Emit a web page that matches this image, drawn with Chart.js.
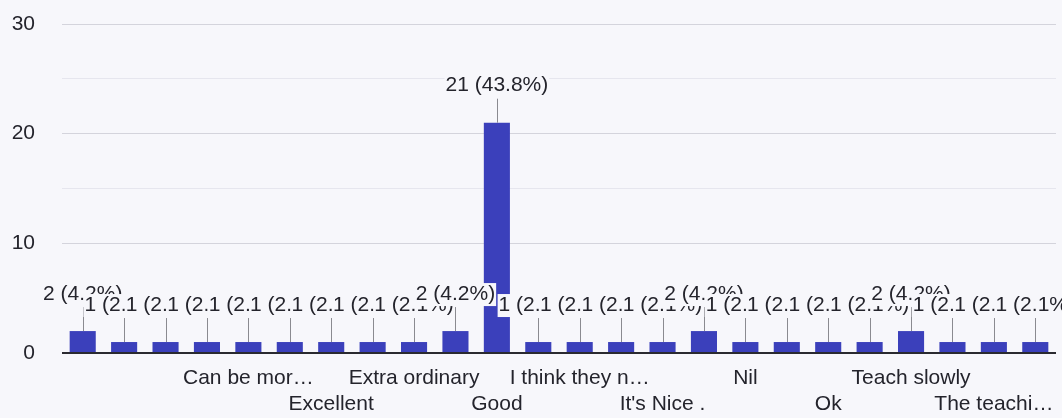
<!DOCTYPE html>
<html>
<head>
<meta charset="utf-8">
<script src="https://cdn.jsdelivr.net/npm/chart.js@4/dist/chart.umd.min.js"></script>
<style>
  html, body { margin: 0; padding: 0; background: #f7f7fb; }
  #chart { display: block; }
</style>
</head>
<body>
<canvas id="chart" width="1062" height="418"></canvas>
<script>
// responses, sorted like the form summary (unreadable labels left blank)
const categories = [
  "", "", "", "", "Can be mor…", "", "Excellent", "", "Extra ordinary", "",
  "Good", "", "I think they n…", "", "It's Nice .", "", "Nil", "", "Ok", "",
  "Teach slowly", "", "The teachi…", ""
];
const counts = [
  2, 1, 1, 1, 1, 1, 1, 1, 1, 2,
  21, 1, 1, 1, 1, 2, 1, 1, 1, 1,
  2, 1, 1, 1
];
const yTicks = [0, 10, 20, 30];

const BG = "#f7f7fb";
const BAR = "#3b40bb";
const TEXT = "#24242c";
const FONT = "'Liberation Sans', Arial, sans-serif";

const total = counts.reduce((a, b) => a + b, 0);

const background = {
  id: "background",
  beforeDraw(chart) {
    const ctx = chart.ctx;
    ctx.save();
    ctx.fillStyle = BG;
    ctx.fillRect(0, 0, chart.width, chart.height);
    ctx.restore();
  },
};

const barLabels = {
  id: "barLabels",
  afterDatasetsDraw(chart) {
    const ctx = chart.ctx;
    const meta = chart.getDatasetMeta(0);
    ctx.save();
    // leader lines first
    ctx.strokeStyle = "#8a8a90";
    ctx.lineWidth = 1;
    meta.data.forEach((bar) => {
      ctx.beginPath();
      ctx.moveTo(Math.round(bar.x) + 0.5, bar.y - 24);
      ctx.lineTo(Math.round(bar.x) + 0.5, bar.y);
      ctx.stroke();
    });
    ctx.font = "21px " + FONT;
    ctx.textAlign = "center";
    ctx.textBaseline = "middle";
    meta.data.forEach((bar, i) => {
      const v = counts[i];
      const txt = `${v} (${((v / total) * 100).toFixed(1)}%)`;
      const w = ctx.measureText(txt).width;
      const cy = bar.y - 37;
      ctx.fillStyle = BG;
      ctx.fillRect(bar.x - w / 2 - 1, cy - 11, w + 2, 23);
      ctx.fillStyle = TEXT;
      ctx.fillText(txt, bar.x, cy);
    });
    ctx.restore();
  },
};

new Chart(document.getElementById("chart"), {
  type: "bar",
  data: {
    labels: categories,
    datasets: [
      {
        data: counts,
        backgroundColor: BAR,
        barPercentage: 0.63,
        categoryPercentage: 1,
      },
    ],
  },
  options: {
    responsive: false,
    animation: false,
    devicePixelRatio: 1,
    layout: { padding: { top: 24, right: 6, left: 0, bottom: 0 } },
    plugins: {
      legend: { display: false },
      tooltip: { enabled: false },
    },
    scales: {
      x: {
        grid: { display: false, drawTicks: false },
        border: { display: false },
        afterFit: (scale) => { scale.height = 65; },
        ticks: {
          autoSkip: false,
          maxRotation: 0,
          minRotation: 0,
          padding: 12,
          color: TEXT,
          font: { family: FONT, size: 21, lineHeight: 1.24 },
          callback: (value, index) => {
            const label = categories[index];
            if (!label || index % 2 === 1) return "";
            return (index / 2) % 2 === 0 ? [label] : ["", label];
          },
        },
      },
      y: {
        min: 0,
        max: 30,
        afterFit: (scale) => {
          scale.width = 62;
          scale.paddingTop = 0;
          scale.paddingBottom = 0;
        },
        afterBuildTicks: (scale) => {
          scale.ticks = [0, 5, 10, 15, 20, 25, 30].map((v) => ({ value: v }));
        },
        border: { display: false },
        grid: {
          drawTicks: false,
          color: (c) => (c.tick.value === 0 ? "#2a2a30" : c.tick.value % 10 === 0 ? "#d4d4dc" : "#e6e6ee"),
          lineWidth: (c) => (c.tick.value === 0 ? 2 : 1),
        },
        ticks: {
          padding: 27,
          color: TEXT,
          font: { family: FONT, size: 21 },
          callback: (v) => (yTicks.includes(v) ? String(v) : ""),
        },
      },
    },
  },
  plugins: [background, barLabels],
});
</script>
</body>
</html>
